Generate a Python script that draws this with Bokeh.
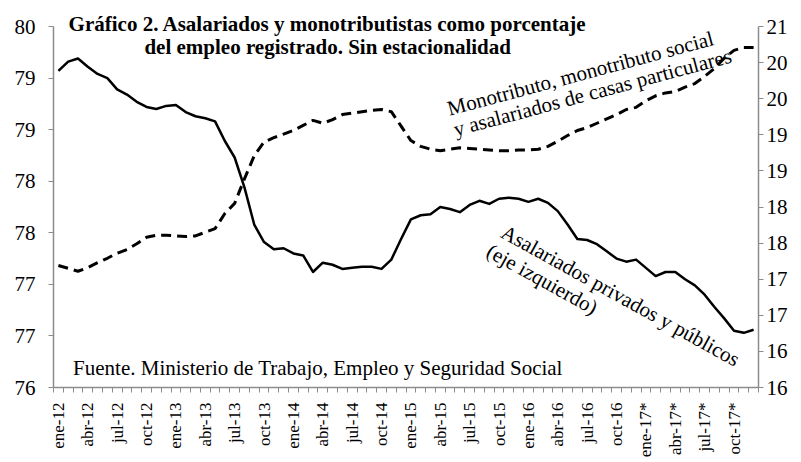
import math
from bokeh.plotting import figure
from bokeh.models import Range1d, LinearAxis, FixedTicker, CustomJSTickFormatter, Label, ColumnDataSource
from bokeh.embed import file_html
from bokeh.resources import INLINE

# ---- data ----
month_names = ["ene", "feb", "mar", "abr", "may", "jun", "jul", "ago", "sep", "oct", "nov", "dic"]
years = ["12", "13", "14", "15", "16", "17*"]
months = [f"{m}-{y}" for y in years for m in month_names]

# Asalariados privados y públicos (eje izquierdo), %
asalariados = [79.07, 79.16, 79.19, 79.11, 79.04, 79.00, 78.89, 78.84, 78.77, 78.72, 78.70, 78.73,
               78.74, 78.67, 78.63, 78.61, 78.58, 78.39, 78.23, 77.94, 77.58, 77.41, 77.34, 77.35,
               77.30, 77.28, 77.12, 77.21, 77.19, 77.15, 77.16, 77.17, 77.17, 77.15, 77.24, 77.44,
               77.63, 77.67, 77.68, 77.75, 77.73, 77.70, 77.77, 77.81, 77.78, 77.83, 77.84, 77.83,
               77.80, 77.83, 77.79, 77.71, 77.58, 77.44, 77.43, 77.39, 77.32, 77.25, 77.22, 77.24,
               77.16, 77.08, 77.12, 77.12, 77.05, 76.99, 76.90, 76.78, 76.67, 76.55, 76.53, 76.56]

# Monotributo, monotributo social y asalariados de casas particulares (eje derecho), %
monotributo = [17.19, 17.15, 17.11, 17.16, 17.23, 17.29, 17.36, 17.41, 17.49, 17.58, 17.61, 17.61,
               17.60, 17.59, 17.60, 17.65, 17.70, 17.91, 18.05, 18.39, 18.71, 18.90, 18.96, 19.01,
               19.06, 19.13, 19.20, 19.16, 19.21, 19.28, 19.30, 19.32, 19.34, 19.35, 19.32, 19.12,
               18.92, 18.84, 18.80, 18.78, 18.80, 18.82, 18.81, 18.80, 18.79, 18.78, 18.78, 18.79,
               18.79, 18.80, 18.84, 18.91, 18.99, 19.06, 19.10, 19.16, 19.22, 19.28, 19.35, 19.38,
               19.47, 19.54, 19.58, 19.60, 19.66, 19.71, 19.81, 19.92, 20.06, 20.17, 20.21, 20.21]

left_ticks = [76, 76.5, 77, 77.5, 78, 78.5, 79, 79.5]
right_ticks = [15.5, 16, 16.5, 17, 17.5, 18, 18.5, 19, 19.5, 20, 20.5]

FONT = "Liberation Serif"
GRAY = "#8c8c8c"

n = len(months)
src = ColumnDataSource(dict(x=[i + 0.5 for i in range(n)], asal=asalariados, mono=monotributo, lab=months))

# plot area: axes span 361 px; extra 22 px headroom above so the title is not clipped
AXIS_PX = 361.0
HEAD_PX = 22.0
left_span = left_ticks[-1] - left_ticks[0]
right_span = right_ticks[-1] - right_ticks[0]
left_top = left_ticks[-1] + left_span * HEAD_PX / AXIS_PX
right_top = right_ticks[-1] + right_span * HEAD_PX / AXIS_PX

p = figure(width=801, height=462, output_backend="svg", toolbar_location=None,
           x_range=Range1d(0, n), y_range=Range1d(left_ticks[0], left_top),
           min_border_left=53, min_border_right=43, min_border_top=int(26 - HEAD_PX), min_border_bottom=75)
p.extra_y_ranges = {"right": Range1d(right_ticks[0], right_top)}
p.outline_line_color = None
p.xgrid.visible = False
p.ygrid.visible = False
p.background_fill_color = "white"

fmt = CustomJSTickFormatter(code="return Math.round(tick).toString();")

# left axis
ya = p.yaxis[0]
ya.ticker = FixedTicker(ticks=left_ticks, minor_ticks=[])
ya.bounds = (left_ticks[0], left_ticks[-1])
ya.formatter = fmt
ya.axis_line_color = GRAY
ya.axis_line_width = 1.5
ya.major_tick_line_color = GRAY
ya.major_tick_out = 5
ya.major_tick_in = 0
ya.minor_tick_line_color = None
ya.major_label_text_font = FONT
ya.major_label_text_font_size = "21px"
ya.major_label_text_color = "black"
ya.major_label_standoff = 13

# right axis
yr = LinearAxis(y_range_name="right")
yr.ticker = FixedTicker(ticks=right_ticks, minor_ticks=[])
yr.bounds = (right_ticks[0], right_ticks[-1])
yr.formatter = fmt
yr.axis_line_color = GRAY
yr.axis_line_width = 1.5
yr.major_tick_line_color = GRAY
yr.major_tick_out = 5
yr.major_tick_in = 0
yr.minor_tick_line_color = None
yr.major_label_text_font = FONT
yr.major_label_text_font_size = "21px"
yr.major_label_text_color = "black"
yr.major_label_standoff = 3
p.add_layout(yr, "right")

# x axis
xa = p.xaxis[0]
xa.ticker = FixedTicker(ticks=[i + 0.5 for i in range(0, n, 3)], minor_ticks=list(range(0, n + 1)))
xa.formatter = CustomJSTickFormatter(args=dict(labels=months),
                                     code="const k = Math.floor(tick); return (k >= 0 && k < labels.length) ? labels[k] : '';")
xa.axis_line_color = GRAY
xa.axis_line_width = 1.5
xa.major_tick_line_color = None
xa.major_tick_out = 0
xa.major_tick_in = 0
xa.minor_tick_line_color = GRAY
xa.minor_tick_out = 5
xa.minor_tick_in = 0
xa.major_label_orientation = math.pi / 2
xa.major_label_text_font = FONT
xa.major_label_text_font_size = "17px"
xa.major_label_text_color = "black"
xa.major_label_standoff = 10

# lines
p.line("x", "asal", source=src, line_color="black", line_width=2.5, line_join="round")
p.line("x", "mono", source=src, y_range_name="right", line_color="black", line_width=3,
       line_dash="10 6")

# texts
def lab(x, y, text, angle=0.0, bold=False, align="center", baseline="middle"):
    p.add_layout(Label(x=x, y=y, text=text, angle=math.radians(angle), text_font=FONT,
                       text_font_size="21px", text_font_style="bold" if bold else "normal",
                       text_align=align, text_baseline=baseline, text_color="black"))

lab(28.0, 79.529, "Gráfico 2. Asalariados y monotributistas como porcentaje", bold=True, baseline="alphabetic")
lab(28.0, 79.306, "del empleo registrado. Sin estacionalidad", bold=True, baseline="alphabetic")
lab(2.0, 76.185, "Fuente. Ministerio de Trabajo, Empleo y Seguridad Social", align="left", baseline="alphabetic")
lab(53.82, 79.044, "Monotributo, monotributo social", angle=15)
lab(55.05, 78.86, "y asalariados de casas particulares", angle=15)
lab(57.9, 76.89, "Asalariados privados y públicos", angle=-29)
lab(49.9, 77.05, "(eje izquierdo)", angle=-29)

open("out.html", "w").write(file_html(p, INLINE))
